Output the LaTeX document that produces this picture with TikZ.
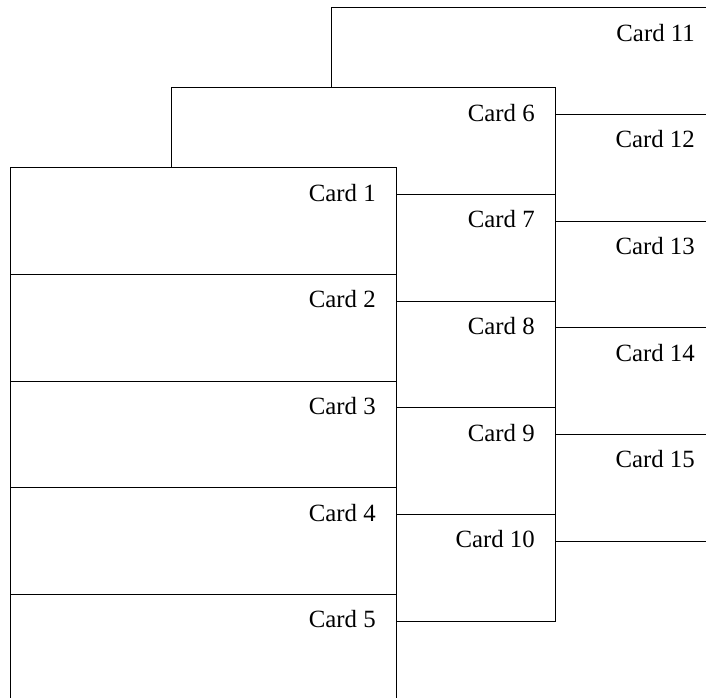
\documentclass[tikz,border=0pt]{standalone}
\usepackage{fontspec}
\setmainfont{Liberation Serif}
\begin{document}
\begin{tikzpicture}[x=0.75pt,y=-0.75pt,
  card/.style={draw=black, line width=0.75pt, fill=white, rectangle,
    minimum height=80pt, inner sep=0pt, outer sep=0pt, anchor=north west},
  cardlabel/.style={font=\fontsize{18.6}{20}\selectfont, anchor=base east, inner sep=0pt}]
\useasboundingbox (0,0) rectangle (706,698);
\clip (0,0) rectangle (706,698);
% three stacks of five cards, back to front
\foreach \x/\y/\w/\first in {331/7.7/288/11, 171/87.7/288/6, 10/167.7/289.5/1} {
  \foreach \i in {0,...,4} {
    \pgfmathtruncatemacro\n{\first+\i}
    \node[card, minimum width=\w pt] (card\n) at (\x, \y+106.67*\i) {};
    \path (card\n.north east) ++(-20,33.5) node[cardlabel] (label\n) {Card \n};
  }
}
\end{tikzpicture}
\end{document}
